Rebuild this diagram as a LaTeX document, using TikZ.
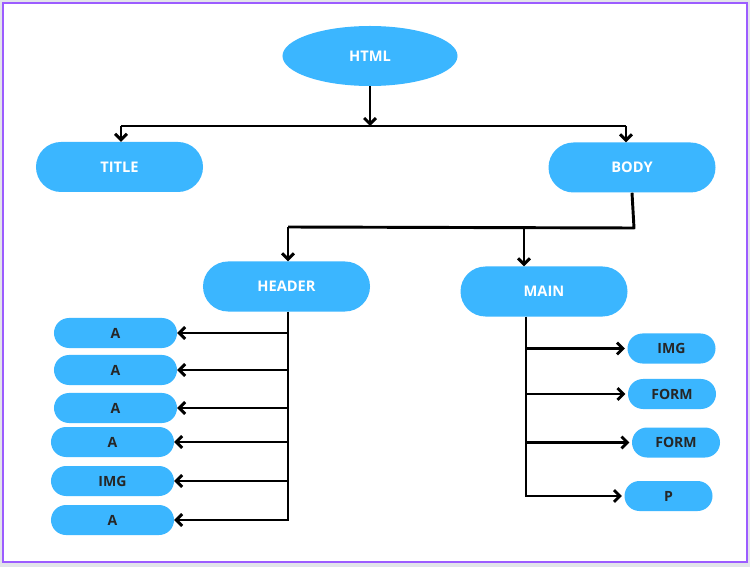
\documentclass[tikz,border=0pt]{standalone}
\usepackage{fontspec}
\setmainfont{Open Sans}
\usetikzlibrary{arrows.meta,shapes.geometric}
\definecolor{tagblue}{RGB}{59,182,255}
\definecolor{framepurple}{RGB}{156,92,255}
\definecolor{pagegray}{RGB}{226,228,234}
\begin{document}
\begin{tikzpicture}[x=0.03cm,y=-0.03cm,
        >={Straight Barb[length=5pt,width=10pt]},
        link/.style={line width=2.5pt, line join=round},
        tag/.style={fill=tagblue, text=white, font=\bfseries\fontsize{12.5}{14}\selectfont},
        section/.style={tag, minimum width=5.01cm, minimum height=1.5cm, rounded corners=0.75cm},
        leaf/.style={fill=tagblue, text=black!85, font=\bfseries\fontsize{12}{14}\selectfont, minimum height=0.9cm, rounded corners=0.45cm},
        lleaf/.style={leaf, minimum width=3.69cm},
        rleaf/.style={leaf, minimum width=2.64cm}]
    % page and frame
    \fill[pagegray] (0,0) rectangle (750,567);
    \draw[framepurple, line width=2.2pt, fill=white] (3,3) rectangle (747,562);

    \node (html) [tag, ellipse, minimum width=5.25cm, minimum height=1.8cm] at (370,56) {HTML};
    \node (title) [section] at (119.5,167) {TITLE};
    \node (body) [section] at (632,167.5) {BODY};
    \node (header) [section] at (286.5,286.5) {HEADER};
    \node (main) [section] at (544,291.5) {MAIN};

    % header children
    \node (a1) [lleaf] at (115.5,333) {A};
    \node (a2) [lleaf] at (115.5,370) {A};
    \node (a3) [lleaf] at (115.5,408) {A};
    \node (a4) [lleaf] at (112.5,442) {A};
    \node (img1) [lleaf] at (112.5,481) {IMG};
    \node (a5) [lleaf] at (112.5,520) {A};

    % main children
    \node (img2) [rleaf] at (671.5,348.5) {IMG};
    \node (form1) [rleaf] at (672,394) {FORM};
    \node (form2) [rleaf] at (676,442.5) {FORM};
    \node (p) [rleaf] at (668.5,496) {P};

    \coordinate (top) at (370,126);
    \coordinate (tl) at (121,126);
    \coordinate (tr) at (626,126);
    \coordinate (bj) at (634,228);
    \coordinate (hj) at (288,227);
    \coordinate (mj) at (524,227);
    \coordinate (hb) at (288,521);
    \coordinate (mb) at (526,497);

    \draw[link, ->] (html.south) -- (top);
    \draw[link] (tl) -- (tr);
    \draw[link, ->] (tl) -- (tl |- title.north);
    \draw[link, ->] (tr) -- (tr |- body.north);

    \draw[link] (body.south) -- (bj) -- (hj);
    \draw[link, ->] (hj) -- (hj |- header.north);
    \draw[link, ->] (mj) -- (mj |- main.north);

    \draw[link] (hj |- header.south) -- (hb);
    \foreach \n in {a1,a2,a3,a4,img1,a5}
        \draw[link, ->] (hb |- \n) -- (\n.east);

    \draw[link] (mb |- main.south) -- (mb);
    \foreach \n in {img2,form1,form2,p}
        \draw[link, ->, shorten >=2pt] (mb |- \n) -- (\n.west);
\end{tikzpicture}
\end{document}
